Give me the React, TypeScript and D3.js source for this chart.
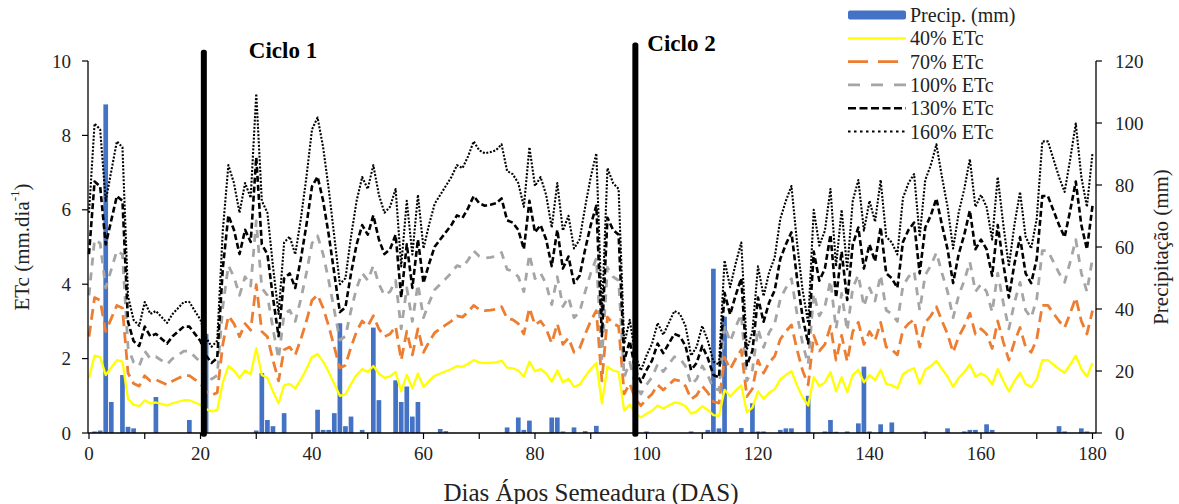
import React from "react";
import * as d3 from "d3";

// Daily crop evapotranspiration (100% ETc, mm/day), days 0..180
const etcBase = [
  3.7, 5.2, 5.1, 3.9, 4.4, 4.9, 4.8, 2.3, 1.9, 1.8,
  2.2, 2.0, 2.05, 1.95, 1.85, 2.0, 2.1, 2.2, 2.2, 2.05,
  1.9, 1.6, 1.45, 1.55, 3.4, 4.5, 4.2, 3.7, 4.2, 3.95,
  5.7, 3.9, 3.7, 2.8, 2.0, 3.2, 3.3, 3.0, 3.6, 4.3,
  5.1, 5.3, 4.8, 4.1, 3.3, 2.5, 2.6, 3.3, 3.9, 4.3,
  4.1, 4.5, 4.0, 3.7, 3.8, 4.1, 2.8, 3.9, 3.0, 4.0,
  3.1, 3.5, 3.85, 4.0, 4.15, 4.3, 4.5, 4.45, 4.65, 4.9,
  4.75, 4.7, 4.72, 4.75, 4.85, 4.4, 4.35, 4.2, 3.8, 4.8,
  4.15, 4.3, 4.0, 3.45, 4.2, 3.4, 3.65, 3.1, 3.25, 3.8,
  4.3, 4.7, 2.0, 4.45, 4.2, 4.1, 1.5, 1.9, 1.3, 1.05,
  1.3, 1.5, 1.85, 1.65, 1.85, 2.05, 2.0, 1.8, 1.3, 1.45,
  1.8, 1.55, 1.2, 1.15, 2.9, 2.45, 2.85, 3.2, 1.4, 1.7,
  2.8, 2.3, 2.7, 2.95, 3.6, 3.9, 4.15, 3.2, 2.4, 1.85,
  3.75, 3.15, 3.4, 4.1, 2.8, 3.75, 2.75, 3.9, 4.25, 3.4,
  3.9, 3.55, 4.25, 3.3, 3.2, 3.0, 3.95, 4.2, 4.35, 3.3,
  4.25, 4.5, 4.85, 4.3, 3.8, 3.1, 3.7, 4.1, 4.6, 3.8,
  4.0, 3.8, 3.25, 4.3, 3.5, 2.8, 3.5, 4.05, 3.3, 3.1,
  3.6, 4.9, 4.9, 4.6, 4.3, 4.05, 4.6, 5.2, 4.3, 3.8,
  4.7,
];

// Daily precipitation (mm), days 0..180
const precip = [
  0, 0.5, 0.8, 106, 10, 0, 18.7, 2, 1.5, 0,
  0, 0, 11.6, 0, 0, 0, 0, 0, 4.2, 0,
  0, 32, 0, 0, 0, 0, 0, 0, 0, 0,
  0.8, 19.3, 4.2, 2.2, 0, 6.4, 0, 0, 0, 0,
  0, 7.5, 1, 1, 6.4, 35.4, 2.2, 5.3, 0, 1,
  0, 34, 10.6, 0, 0, 17, 10, 15, 5.3, 10,
  0, 0, 0, 1.3, 0.6, 0, 0, 0, 0, 0,
  0, 0, 0, 0, 0, 1.8, 0, 5, 1, 4,
  0, 0, 0, 5, 5, 0.5, 0, 1.8, 0, 0.6,
  0, 2.3, 0, 0, 0, 0, 0, 0, 0, 0,
  0.5, 0, 0, 0, 0, 0, 0, 0, 0.5, 0,
  0, 1, 53, 1.5, 37.5, 0, 0, 1.6, 0, 9.6,
  0.5, 0.5, 0, 0, 1, 1.5, 1.5, 0, 0, 12,
  0, 0, 0.5, 4.2, 0.4, 0, 0.5, 0, 3.1, 21.4,
  0.5, 0, 2.8, 0, 3.4, 0, 0, 0, 0, 0,
  0.5, 0, 0, 0, 1.5, 0, 0, 0.5, 1, 1,
  0, 2.8, 1, 0, 0, 0, 0, 0, 0, 0,
  0, 0, 0, 0, 2.2, 0.5, 0, 0, 1.5, 0.5,
  0,
];

// Irrigation levels (% of ETc)
const etcLevels = [40, 70, 100, 130, 160];
const seriesNames = ["40% ETc", "70% ETc", "100% ETc", "130% ETc", "160% ETc"];
const precipName = "Precip. (mm)";

const xTicks = [0, 10, 20, 30, 40, 50, 60, 70, 80, 90, 100, 110, 120, 130, 140, 150, 160, 170, 180];
const xTickLabels = [0, 20, 40, 60, 80, 100, 120, 140, 160, 180];
const yLeftTicks = [0, 2, 4, 6, 8, 10];
const yRightTicks = [0, 20, 40, 60, 80, 100, 120];

const cycleDays = [20.6, 98];
const cycleTops = [10.3, 10.5];
const cycleLabels = ["Ciclo 1", "Ciclo 2"];

const seriesStyles = [
  { stroke: "#FFFF00", width: 2.3, dash: "", legendDash: "" },
  { stroke: "#ED7D31", width: 2.8, dash: "11,6", legendDash: "20,10" },
  { stroke: "#A5A5A5", width: 2.8, dash: "8,7", legendDash: "12,11" },
  { stroke: "#000000", width: 2.6, dash: "6,3", legendDash: "8,3.5" },
  { stroke: "#000000", width: 2.1, dash: "2,1.6", legendDash: "2.5,3.5" },
];

const FONT = "Liberation Serif";
const txt = { fontFamily: FONT };

export default function App() {
  const W = 1179;
  const H = 504;
  const days = d3.range(0, etcBase.length);
  const x = d3.scaleLinear().domain([0, 180]).range([89, 1092.5]);
  const yL = d3.scaleLinear().domain([0, 10]).range([433, 61]);
  const yR = d3.scaleLinear().domain([0, 120]).range([433, 61]);
  const bw = (x(1) - x(0)) * 0.84;
  const axL = 88;
  const axR = 1096;
  const axB = yL(0);

  const line = d3
    .line<number>()
    .x((_, i) => x(days[i]))
    .y((d) => yL(d));

  const series = etcLevels.map((p) => etcBase.map((v) => (v * p) / 100));

  const legendItems = [precipName, ...seriesNames];

  return (
    <div style={{ position: "absolute", left: 0, top: 0 }}>
      <svg width={W} height={H} style={{ display: "block", background: "#fff", fontFamily: FONT }}>
        <rect x={0} y={0} width={W} height={H} fill="#fff" />
        {/* precipitation bars */}
        {precip.map((p, i) =>
          p > 0 ? (
            <rect
              key={"b" + i}
              x={x(days[i]) - bw / 2}
              y={yR(p)}
              width={bw}
              height={yR(0) - yR(p)}
              fill="#4472C4"
            />
          ) : null
        )}
        {/* ETc lines */}
        {series.map((s, k) => (
          <path
            key={"s" + k}
            d={line(s) || ""}
            fill="none"
            stroke={seriesStyles[k].stroke}
            strokeWidth={seriesStyles[k].width}
            strokeDasharray={seriesStyles[k].dash || undefined}
            strokeLinejoin="round"
          />
        ))}
        {/* axes */}
        <line x1={axL} x2={axL} y1={yL(10)} y2={axB} stroke="#000" strokeWidth={1.3} />
        <line x1={axR} x2={axR} y1={yR(120)} y2={axB} stroke="#000" strokeWidth={1.3} />
        <line x1={axL} x2={axR} y1={axB} y2={axB} stroke="#000" strokeWidth={1.3} />
        {yLeftTicks.map((t) => (
          <g key={"yl" + t}>
            <line x1={axL - 6} x2={axL} y1={yL(t)} y2={yL(t)} stroke="#000" strokeWidth={1.2} />
            <text x={axL - 17} y={yL(t)} textAnchor="end" dominantBaseline="central" fontSize={19} fill="#222" style={txt}>
              {t}
            </text>
          </g>
        ))}
        {yRightTicks.map((t) => (
          <g key={"yr" + t}>
            <line x1={axR} x2={axR + 6} y1={yR(t)} y2={yR(t)} stroke="#000" strokeWidth={1.2} />
            <text x={axR + 19} y={yR(t)} textAnchor="start" dominantBaseline="central" fontSize={19} fill="#222" style={txt}>
              {t}
            </text>
          </g>
        ))}
        {xTicks.map((t) => (
          <line key={"xt" + t} x1={x(t)} x2={x(t)} y1={axB} y2={axB + 6} stroke="#000" strokeWidth={1.2} />
        ))}
        {xTickLabels.map((t) => (
          <text key={"xl" + t} x={x(t)} y={axB + 20} textAnchor="middle" dominantBaseline="central" fontSize={19} fill="#222" style={txt}>
            {t}
          </text>
        ))}
        {/* axis titles */}
        <text x={591} y={492} textAnchor="middle" dominantBaseline="central" fontSize={25} fill="#222" style={txt}>
          Dias Ápos Semeadura (DAS)
        </text>
        <text
          transform={`translate(22, ${(yL(10) + axB) / 2}) rotate(-90)`}
          textAnchor="middle"
          dominantBaseline="central"
          fontSize={21}
          fill="#222"
          style={txt}
        >
          ETc (mm.dia
          <tspan fontSize={13} dy={-8}>-1</tspan>
          <tspan dy={8}>)</tspan>
        </text>
        <text
          transform={`translate(1161, ${(yL(10) + axB) / 2}) rotate(-90)`}
          textAnchor="middle"
          dominantBaseline="central"
          fontSize={21}
          fill="#222"
          style={txt}
        >
          Precipitação (mm)
        </text>
        {/* cycle markers */}
        {cycleDays.map((d, i) => (
          <g key={"c" + i}>
            <rect x={x(d) - 3} y={yL(cycleTops[i])} width={6} height={yL(-0.1) - yL(cycleTops[i])} rx={2.5} fill="#000" />
            <text
              x={x(d) + (i === 0 ? 45 : 12)}
              y={yL(cycleTops[i]) + 1}
              fontSize={23}
              fontWeight="bold"
              dominantBaseline="central"
              fill="#000"
              style={txt}
            >
              {cycleLabels[i]}
            </text>
          </g>
        ))}
        {/* legend */}
        {legendItems.map((name, i) => {
          const cy = 15 + i * 23.3;
          return (
            <g key={"lg" + i}>
              {i === 0 ? (
                <rect x={848} y={cy - 4.5} width={58} height={9} rx={2} fill="#4472C4" />
              ) : (
                <line
                  x1={848}
                  x2={906}
                  y1={cy}
                  y2={cy}
                  stroke={seriesStyles[i - 1].stroke}
                  strokeWidth={seriesStyles[i - 1].width}
                  strokeDasharray={seriesStyles[i - 1].legendDash || undefined}
                />
              )}
              <text x={910} y={cy} dominantBaseline="central" fontSize={20} fill="#222" style={txt}>
                {name}
              </text>
            </g>
          );
        })}
      </svg>
    </div>
  );
}
